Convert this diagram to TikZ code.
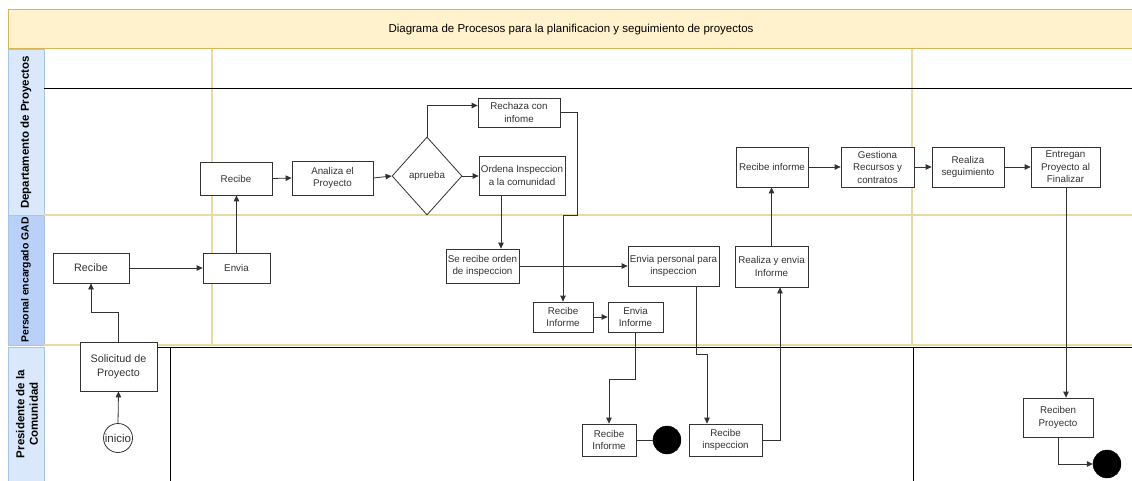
\documentclass[tikz,border=0pt]{standalone}
\usepackage{fontspec}
\setmainfont{Liberation Sans}
\usetikzlibrary{arrows.meta,calc,shapes.geometric}

\definecolor{titlefill}{HTML}{FFF2CC}
\definecolor{titleline}{HTML}{D6B656}
\definecolor{lanefill}{HTML}{DAE8FC}
\definecolor{lanefilldark}{HTML}{B9D1F8}
\definecolor{laneline}{HTML}{A9C4EB}
\definecolor{sepline}{HTML}{EAD9A0}
\definecolor{ink}{HTML}{333333}

\begin{document}
\begin{tikzpicture}[x=1pt,y=-1pt,
  box/.style={draw=ink, line width=0.8pt, fill=white, text=ink, align=center,
    inner sep=0.5pt, font=\fontsize{9.8}{12.5}\selectfont},
  bigtext/.style={font=\fontsize{10.8}{13.5}\selectfont},
  pbox/.style 2 args={box, rectangle, minimum width=#1pt, minimum height=#2pt},
  decision/.style={box, diamond, minimum width=70pt, minimum height=78pt, inner sep=0pt},
  startnode/.style={box, circle, minimum size=29pt, inner sep=0pt, font=\fontsize{11.5}{13}\selectfont},
  endnode/.style={circle, fill=black, draw=black, minimum size=28pt, inner sep=0pt},
  flow/.style={draw=ink, line width=0.8pt, -{Triangle[length=6pt,width=5.5pt]}},
  plain/.style={draw=ink, line width=0.8pt},
  lanelabel/.style={rotate=90, align=center, font=\fontsize{11.5}{13.5}\selectfont\bfseries},
  sep/.style={draw=sepline, line width=1.2pt},
  bound/.style={draw=black, line width=0.8pt}
]
\useasboundingbox (0,0) rectangle (1132,481);
\fill[white] (0,0) rectangle (1132,481);

% title band
\fill[titlefill] (8,10) rectangle (1132,49);
\draw[titleline, line width=1pt] (1132,10) -- (8,10) -- (8,49) -- (1132,49);
\node[font=\fontsize{11.5}{13}\selectfont] (title) at (571,30)
  {Diagrama de Procesos para la planificacion y seguimiento de proyectos};

% lane headers
\draw[laneline, fill=lanefill, line width=0.8pt] (8,49) rectangle (44,215);
\draw[laneline, fill=lanefilldark, line width=0.8pt] (8,215) rectangle (44,345);
\draw[laneline, fill=lanefill, line width=0.8pt] (8,347) rectangle (44,481);
\node[lanelabel] (lab1) at (26,132.5) {Departamento de Proyectos};
\node[lanelabel, font=\fontsize{10.4}{12.5}\selectfont\bfseries] (lab2) at (26,280) {Personal encargado GAD};
\node[lanelabel] (lab3) at (27,414) {Presidente de la\\Comunidad};

% lane separators
\draw[sep] (44,215) -- (1132,215);
\draw[sep] (44,345) -- (1132,345);
\draw[sep] (212,49) -- (212,345);
\draw[sep] (912,49) -- (912,345);
\draw[bound] (44,88) -- (1132,88);
\draw[bound] (157,347.5) -- (1132,347.5);
\draw[bound] (170,347.5) -- (170,481);
\draw[bound] (913,347.5) -- (913,481);

% Personal encargado GAD
\node[pbox={76}{30}, bigtext] (rgad) at (91,268) {Recibe};
\node[pbox={67}{30}] (env) at (236.5,268) {Envia};

% Presidente de la Comunidad
\node[pbox={77}{49}, bigtext] (sol) at (118.5,366.5) {Solicitud de\\Proyecto};
\node[startnode] (ini) at (118,438) {inicio};

% Departamento de Proyectos
\node[pbox={72}{33}] (rdep) at (236,178.5) {Recibe};
\node[pbox={81}{34}] (ana) at (332.5,178) {Analiza el\\Proyecto};
\node[decision] (apr) at (427,176) {aprueba};
\node[pbox={82}{29}] (rech) at (519,112.5) {Rechaza con\\infome};
\node[pbox={86}{39}] (ord) at (522,175.5) {Ordena Inspeccion\\a la comunidad};

% inspection steps
\node[pbox={73}{34}] (serec) at (482.5,266) {Se recibe orden\\de inspeccion};
\node[pbox={91}{40}] (envp) at (673.5,266) {Envia personal para\\inspeccion};
\node[pbox={60}{30}] (rinf) at (563,317) {Recibe\\Informe};
\node[pbox={55}{30}] (einf) at (635.5,317) {Envia\\Informe};
\node[pbox={73}{41}] (real) at (771.5,266.5) {Realiza y envia\\Informe};

\node[pbox={54}{32}] (rinfp) at (609,440) {Recibe\\Informe};
\node[endnode] (end1) at (667,440) {};
\node[pbox={73}{32}] (rinsp) at (725.5,440) {Recibe\\inspeccion};

% project execution
\node[pbox={72}{40}] (rdinf) at (772,167) {Recibe informe};
\node[pbox={73}{40}] (gest) at (877.5,167) {Gestiona\\Recursos y\\contratos};
\node[pbox={72}{40}] (seg) at (968,167) {Realiza\\seguimiento};
\node[pbox={69}{40}] (entr) at (1065.5,167) {Entregan\\Proyecto al\\Finalizar};
\node[pbox={70}{39}] (recp) at (1058,417.5) {Reciben\\Proyecto};
\node[endnode] (end2) at (1107,464) {};

% bend points
\coordinate (xo) at (501,0);
\coordinate (b1) at (577,215);
\coordinate (b2) at (696,354);
\coordinate (b3) at (707,354);
\coordinate (b4) at (780,440);
\coordinate (xe) at (1066,0);

% connectors
\draw[flow] (ini.north) -- (sol.south);
\draw[flow] (sol.north) -- ++(0,-29) -| (rgad.south);
\draw[flow] (rgad.east) -- (env.west);
\draw[flow] (env.north) -- (env.north |- rdep.south);
\draw[flow] (rdep.east) -- (ana.west);
\draw[flow] (ana.east) -- (apr.west);
\draw[flow] (apr.north) |- ($(rech.west)+(0,-7)$);
\draw[flow] (apr.east) -- (apr.east -| ord.west);
\draw[flow] (xo |- ord.south) -- (xo |- serec.north);
\draw[flow] (rech.east) -| (b1) -| (rinf.north);
\draw[flow] (serec.east) -- (envp.west);
\draw[flow] (rinf.east) -- (einf.west);
\draw[flow] (einf.south) -- ++(0,47) -| (rinfp.north);
\draw[plain] (rinfp.east) -- (end1.west);
\draw[flow] (b2 |- envp.south) -- (b2) -- (b3) -- (b3 |- rinsp.north);
\draw[flow] (rinsp.east) -- (b4) -- (b4 |- real.south);
\draw[flow] (real.north) -- (real.north |- rdinf.south);
\draw[flow] (rdinf.east) -- (gest.west);
\draw[flow] (gest.east) -- (seg.west);
\draw[flow] (seg.east) -- (entr.west);
\draw[flow] (xe |- entr.south) -- (xe |- recp.north);
\draw[flow] (recp.south) |- (end2.west);
\end{tikzpicture}
\end{document}
